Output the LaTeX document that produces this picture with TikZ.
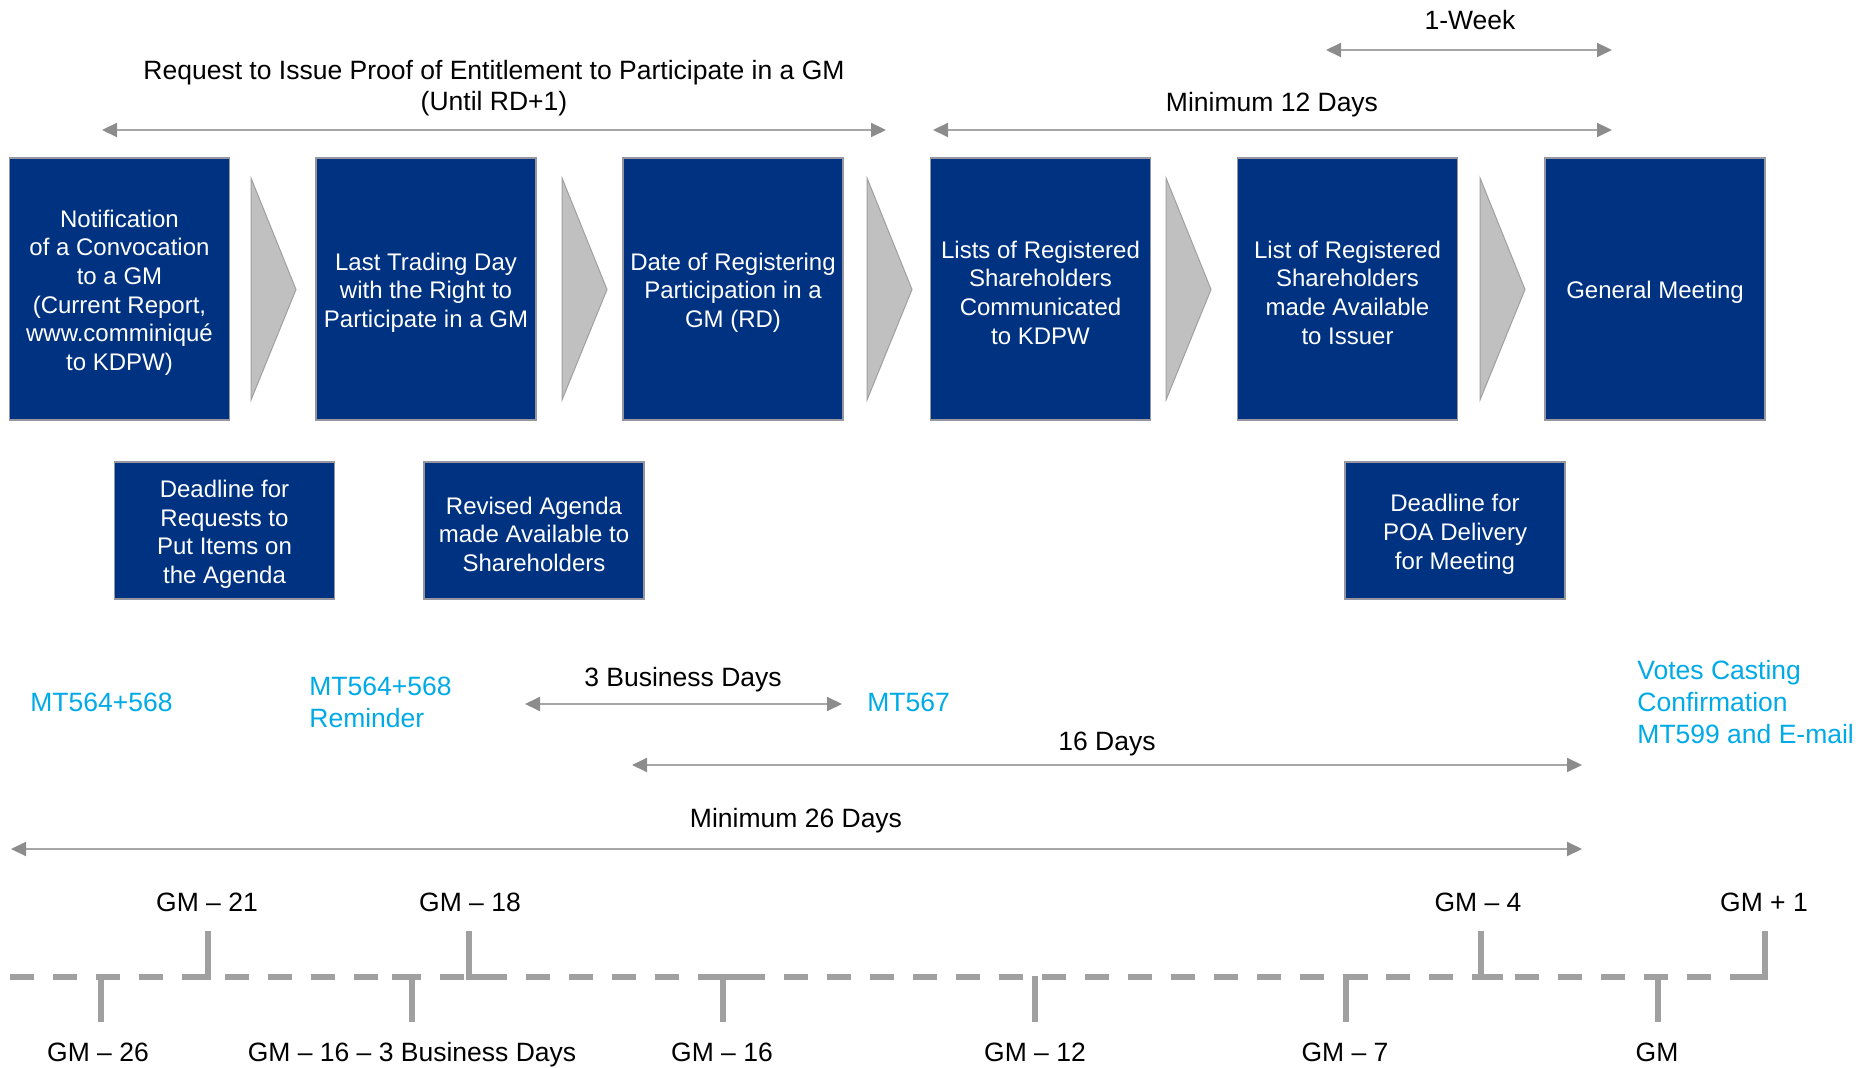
\documentclass[tikz,border=0pt]{standalone}
\usepackage{fontspec}
\setmainfont{Liberation Sans}
\usetikzlibrary{arrows.meta}

\definecolor{boxblue}{RGB}{0,50,130}
\definecolor{boxedge}{RGB}{150,150,160}
\definecolor{chevfill}{RGB}{192,192,192}
\definecolor{chevedge}{RGB}{160,160,160}
\definecolor{spangray}{RGB}{166,166,166}
\definecolor{tipgray}{RGB}{140,140,140}
\definecolor{axisgray}{RGB}{160,160,160}
\definecolor{msgcyan}{RGB}{0,170,230}

% taller first line, so box texts sit a little lower
\newcommand\stepstrut{\rule{0pt}{12.4pt}}

\tikzset{
  stepbox/.style={draw=boxedge, line width=0.6pt, fill=boxblue, text=white,
    inner sep=0pt, minimum width=110pt, minimum height=131pt, align=center,
    font={\fontsize{12}{14.35}\selectfont}},
  notebox/.style={stepbox, minimum height=68.5pt},
  chevron/.style={fill=chevfill, draw=chevedge, line width=0.5pt},
  span/.style={draw=spangray, line width=1pt,
    {Triangle[length=7.5pt,width=7pt,color=tipgray]}-{Triangle[length=7.5pt,width=7pt,color=tipgray]}},
  lbl/.style={anchor=base, inner sep=0pt, align=center,
    font={\fontsize{13.25}{15.5}\selectfont}},
  msg/.style={anchor=base west, inner sep=0pt, align=left, text=msgcyan,
    font={\fontsize{13.25}{16}\selectfont}},
  axis/.style={draw=axisgray, line width=2.75pt, dash pattern=on 12pt off 9.5pt},
  tick/.style={draw=axisgray, line width=3pt},
}

\begin{document}
\begin{tikzpicture}[x=0.5pt,y=-0.5pt]
\useasboundingbox (0,0) rectangle (1872,1068);

% process steps
\node[stepbox] (notif) at (119.5,289) {\stepstrut Notification\\of a Convocation\\to a GM\\(Current Report,\\www.comminiqué\\to KDPW)};
\node[stepbox] (lastday) at (426,289) {\stepstrut Last Trading Day\\with the Right to\\Participate in a GM};
\node[stepbox] (rd) at (733,289) {\stepstrut Date of Registering\\Participation in a\\GM (RD)};
\node[stepbox] (lists) at (1040.5,289) {\stepstrut Lists of Registered\\Shareholders\\Communicated\\to KDPW};
\node[stepbox] (issuer) at (1347.5,289) {\stepstrut List of Registered\\Shareholders\\made Available\\to Issuer};
\node[stepbox] (gm) at (1655,289) {\stepstrut General Meeting};

% chevrons between the steps
\foreach \cx in {251,562,867,1166,1480}{
  \path[chevron] (\cx,178) -- (\cx+45,289.5) -- (\cx,400) -- cycle;
}

% secondary deadlines
\node[notebox] (agendareq) at (224.5,530.5) {\stepstrut Deadline for\\Requests to\\Put Items on\\the Agenda};
\node[notebox] (revised) at (534,530.5) {\stepstrut Revised Agenda\\made Available to\\Shareholders};
\node[notebox] (poa) at (1455,530.5) {\stepstrut Deadline for\\POA Delivery\\for Meeting};

% top spans (multi-line labels are placed by their last baseline)
\node[lbl] (weeklbl) at (1470,29.5) {1-Week};
\coordinate (week-l) at (1326,50);
\coordinate (week-r) at (1612,50);
\draw[span] (week-l) -- (week-r);

\node[lbl] (reqlbl) at (494,110.5) {Request to Issue Proof of Entitlement to Participate in a GM\\(Until RD+1)};
\coordinate (req-l) at (102,130);
\coordinate (req-r) at (886,130);
\draw[span] (req-l) -- (req-r);

\node[lbl] (min12lbl) at (1272,111.5) {Minimum 12 Days};
\coordinate (min12-l) at (933,130);
\coordinate (min12-r) at (1612,130);
\draw[span] (min12-l) -- (min12-r);

% messages
\node[msg] (mt564) at (30,711.5) {MT564+568};
\node[msg] (mt564r) at (309,727.5) {MT564+568\\Reminder};
\node[msg] (mt567) at (867,711.5) {MT567};
\node[msg] (mt599) at (1637,743.5) {Votes Casting\\Confirmation\\MT599 and E-mail};

% lower spans
\node[lbl] (bd3lbl) at (683,686.5) {3 Business Days};
\coordinate (bd3-l) at (525,704);
\coordinate (bd3-r) at (842,704);
\draw[span] (bd3-l) -- (bd3-r);

\node[lbl] (d16lbl) at (1107,750.5) {16 Days};
\coordinate (d16-l) at (632,765);
\coordinate (d16-r) at (1582,765);
\draw[span] (d16-l) -- (d16-r);

\node[lbl] (min26lbl) at (796,827.5) {Minimum 26 Days};
\coordinate (min26-l) at (11,849);
\coordinate (min26-r) at (1582,849);
\draw[span] (min26-l) -- (min26-r);

% time axis
\coordinate (axis-l) at (10,977);
\coordinate (axis-r) at (1765,977);
\draw[axis] (axis-l) -- (axis-r);

% ticks above the axis
\draw[tick] (208,931) |- (190,977);
\draw[tick] (469,931) |- (490,977);
\draw[tick] (1481,931) |- (1503,977);
\draw[tick] (1765,931) |- (1745,977);
% ticks below the axis
\draw[tick] (101,1022) -- (101,975.6);
\draw[tick] (412,1022) |- (392,977);
\draw[tick] (723,1022) |- (743,977);
\draw[tick] (1035,1022) -- (1035,975.6);
\draw[tick] (1346,1022) |- (1368,977);
\draw[tick] (1658,1022) -- (1658,975.6);

% tick labels
\node[lbl] (gm21) at (207,911.5) {GM – 21};
\node[lbl] (gm18) at (470,911.5) {GM – 18};
\node[lbl] (gm4) at (1478,911.5) {GM – 4};
\node[lbl] (gmp1) at (1764,911.5) {GM + 1};
\node[lbl] (gm26) at (98,1061.5) {GM – 26};
\node[lbl] (gm16bd) at (412,1061.5) {GM – 16 – 3 Business Days};
\node[lbl] (gm16) at (722,1061.5) {GM – 16};
\node[lbl] (gm12) at (1035,1061.5) {GM – 12};
\node[lbl] (gm7) at (1345,1061.5) {GM – 7};
\node[lbl] (gm0) at (1657,1061.5) {GM};
\end{tikzpicture}
\end{document}
